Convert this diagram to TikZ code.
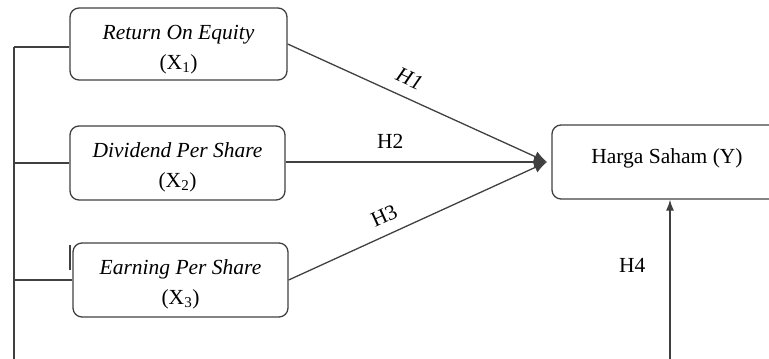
\documentclass[tikz,border=0pt]{standalone}
\usepackage{fontspec}
\setmainfont{Liberation Serif}
\usetikzlibrary{arrows.meta}
\definecolor{ln}{HTML}{404040}
\tikzset{
  box/.style={draw=ln, line width=1.3pt, rounded corners=9pt, inner sep=0pt},
  txt/.style={align=center, inner sep=0pt, text=black, font=\fontsize{21.5}{30}\selectfont},
  conn/.style={draw=ln, line width=1.3pt},
  lbl/.style={font=\fontsize{21.5}{26}\selectfont, inner sep=0pt},
  tipA/.style={-{Latex[length=13pt,width=11pt]}},
  tipB/.style={-{Latex[length=11pt,width=8pt]}}
}
\begin{document}
\begin{tikzpicture}[x=1pt,y=-1pt]
\useasboundingbox (0,0) rectangle (769,359);
\clip (0,0) rectangle (769,359);
\node[box, minimum width=217pt, minimum height=72pt] (r1) at (178.5,44) {};
\node[txt] (t1) at ([yshift=-5.5pt]r1.center) {\textit{Return On Equity}\\(X\textsubscript{1})};
\node[box, minimum width=215pt, minimum height=74pt] (r2) at (177.5,163) {};
\node[txt] (t2) at ([yshift=-4.5pt]r2.center) {\textit{Dividend Per Share}\\(X\textsubscript{2})};
\node[box, minimum width=215pt, minimum height=74pt] (r3) at (180.5,280) {};
\node[txt] (t3) at ([yshift=-4pt]r3.center) {\textit{Earning Per Share}\\(X\textsubscript{3})};
\node[box, minimum width=230pt, minimum height=74pt] (y) at (667,162) {};
\node[txt] (ty) at ([yshift=4pt]y.center) {Harga Saham (Y)};
\coordinate (tip) at (547,162);
\coordinate (lt) at (14,47);
\coordinate (lb) at (14,359);
\coordinate (hb) at (670,359);
\coordinate (tk1) at (70,245);
\coordinate (tk2) at (70,270);
% left bus
\draw[conn] (lt) -- (lb);
\draw[conn] (lt) -- (lt -| r1.west);
\draw[conn] (r2.west -| lt) -- (r2.west);
\draw[conn] (r3.west -| lt) -- (r3.west);
\draw[conn] (tk1) -- (tk2);
% hypotheses
\draw[conn, tipA] (r1.east) -- node[lbl, above=11pt, sloped, pos=0.44] {\textit{H1}} (tip);
\draw[conn, tipA] (r2.east |- tip) -- node[lbl, above=13pt, pos=0.4] {H2} (tip);
\draw[conn, tipA] (r3.east) -- node[lbl, above=11pt, sloped, pos=0.4] {H3} (tip);
\draw[conn, tipB] (hb) -- node[lbl, pos=0.59, left=24pt] {H4} (y.south -| hb);
\end{tikzpicture}
\end{document}
